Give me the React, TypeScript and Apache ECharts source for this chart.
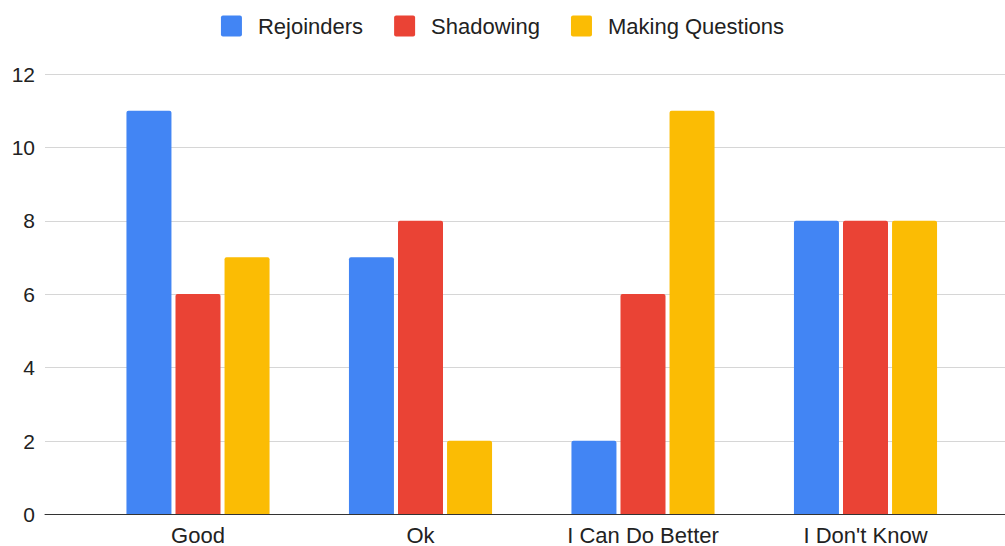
import React, { useEffect, useRef } from "react";
import * as echarts from "echarts";

const categories = ["Good", "Ok", "I Can Do Better", "I Don't Know"];
const rejoinders = [11, 7, 2, 8];
const shadowing = [6, 8, 6, 8];
const makingQuestions = [7, 2, 11, 8];
const seriesNames = ["Rejoinders", "Shadowing", "Making Questions"];
const colors = ["#4285F4", "#EA4335", "#FBBC04"];

const FONT = 'Arial, "Liberation Sans", sans-serif';
const SQUARE_ICON =
  "path://M2,0 L19,0 Q21,0 21,2 L21,19 Q21,21 19,21 L2,21 Q0,21 0,19 L0,2 Q0,0 2,0 Z";

export default function App() {
  const ref = useRef<HTMLDivElement>(null);
  useEffect(() => {
    if (!ref.current) return;
    const chart = echarts.init(ref.current, null, { renderer: "svg" });
    const values = [rejoinders, shadowing, makingQuestions];
    chart.setOption({
      animation: false,
      backgroundColor: "#ffffff",
      textStyle: { fontFamily: FONT },
      legend: {
        data: seriesNames,
        top: 10,
        left: "center",
        icon: SQUARE_ICON,
        itemWidth: 21,
        itemHeight: 21,
        itemGap: 31,
        textStyle: { fontSize: 22, color: "#222", fontFamily: FONT, padding: [0, 0, 0, 11] },
      },
      grid: [
        { left: 45, right: 0, top: 74, bottom: 31.5, containLabel: false },
        { left: 86.75, right: 28.25, top: 74, bottom: 31.5, containLabel: false },
      ],
      xAxis: [
        {
          type: "category",
          gridIndex: 0,
          data: categories,
          axisLine: { show: true, lineStyle: { color: "#333", width: 1 } },
          axisTick: { show: false },
          axisLabel: { show: false },
          splitLine: { show: false },
        },
        {
          type: "category",
          gridIndex: 1,
          data: categories,
          axisLine: { show: false },
          axisTick: { show: false },
          axisLabel: { fontSize: 22, color: "#222", fontFamily: FONT, margin: 10 },
          splitLine: { show: false },
        },
      ],
      yAxis: [
        {
          type: "value",
          gridIndex: 0,
          min: 0,
          max: 12,
          interval: 2,
          axisLine: { show: false },
          axisTick: { show: false },
          axisLabel: { fontSize: 21, color: "#222", fontFamily: FONT, margin: 10 },
          splitLine: { show: true, lineStyle: { color: "#d6d6d6", width: 1 } },
        },
        {
          type: "value",
          gridIndex: 1,
          min: 0,
          max: 12,
          interval: 2,
          show: false,
          splitLine: { show: false },
        },
      ],
      series: seriesNames.map((name, i) => ({
        name,
        type: "bar",
        xAxisIndex: 1,
        yAxisIndex: 1,
        data: values[i],
        barWidth: 45,
        barGap: "9%",
        itemStyle: { color: colors[i], borderRadius: [2, 2, 0, 0] },
      })),
    });
    return () => chart.dispose();
  }, []);
  return (
    <div
      ref={ref}
      style={{ position: "fixed", left: 0, top: 0, width: 1005, height: 546 }}
    />
  );
}
